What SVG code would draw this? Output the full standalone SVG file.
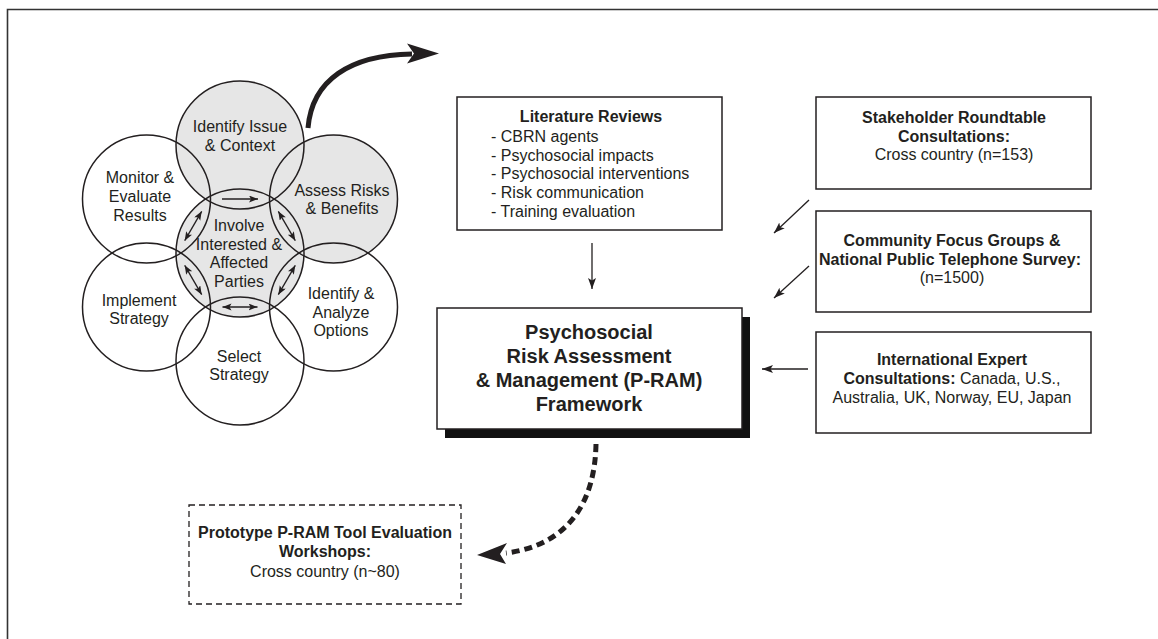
<svg xmlns="http://www.w3.org/2000/svg" width="1158" height="639" viewBox="0 0 1158 639">
<style>
text{font-family:"Liberation Sans",Arial,sans-serif;fill:#231f20;font-size:16px}
.c{text-anchor:middle}
.b{font-weight:bold}
.big{font-size:20px;font-weight:bold}
.ol{fill:none;stroke:#231f20;stroke-width:1.5}
.gf{fill:#e6e6e6;stroke:none}
.box{fill:#fff;stroke:#231f20;stroke-width:1.5}
.ln{fill:none;stroke:#231f20;stroke-width:1.3}
</style>
<defs>
<marker id="ah" markerWidth="12" markerHeight="10" refX="11" refY="4" orient="auto" markerUnits="userSpaceOnUse">
<path d="M0,0 L11,4 L0,8 L2.5,4 z" fill="#231f20"/>
</marker>
<marker id="as" markerWidth="10" markerHeight="8" refX="9" refY="3.5" orient="auto-start-reverse" markerUnits="userSpaceOnUse">
<path d="M0,0 L9,3.5 L0,7 L2,3.5 z" fill="#231f20"/>
</marker>
</defs>
<rect width="1158" height="639" fill="#fff"/>
<path d="M7.5,639 V9.5 H1158" fill="none" stroke="#333" stroke-width="1.6"/>

<g id="circles">
<circle class="gf" cx="240" cy="145" r="64"/>
<circle class="gf" cx="333.5" cy="199" r="64"/>
<circle class="gf" cx="240" cy="253" r="64"/>
<circle class="ol" cx="240" cy="145" r="64"/>
<circle class="ol" cx="333.5" cy="199" r="64"/>
<circle class="ol" cx="333.5" cy="307" r="64"/>
<circle class="ol" cx="240" cy="361" r="64"/>
<circle class="ol" cx="146.5" cy="307" r="64"/>
<circle class="ol" cx="146.5" cy="199" r="64"/>
<circle class="ol" cx="240" cy="253" r="64"/>
</g>
<g id="node-identify-issue"><text class="c" x="240" y="132">Identify Issue</text><text class="c" x="240" y="151">&amp; Context</text></g>
<g id="node-assess"><text class="c" x="342" y="196">Assess Risks</text><text class="c" x="342" y="214">&amp; Benefits</text></g>
<g id="node-analyze"><text class="c" x="341" y="299">Identify &amp;</text><text class="c" x="341" y="318">Analyze</text><text class="c" x="341" y="336">Options</text></g>
<g id="node-select"><text class="c" x="239" y="362">Select</text><text class="c" x="239" y="380">Strategy</text></g>
<g id="node-implement"><text class="c" x="139" y="306">Implement</text><text class="c" x="139" y="324">Strategy</text></g>
<g id="node-monitor"><text class="c" x="140" y="183">Monitor &amp;</text><text class="c" x="140" y="202">Evaluate</text><text class="c" x="140" y="221">Results</text></g>
<g id="node-involve"><text class="c" x="239" y="231">Involve</text><text class="c" x="239" y="250">Interested &amp;</text><text class="c" x="239" y="268">Affected</text><text class="c" x="239" y="287">Parties</text></g>

<g id="node-literature">
<rect class="box" x="457" y="97" width="265" height="133"/>
<text class="c b" x="591" y="122">Literature Reviews</text>
<text x="491" y="142">- CBRN agents</text>
<text x="491" y="161">- Psychosocial impacts</text>
<text x="491" y="179">- Psychosocial interventions</text>
<text x="491" y="198">- Risk communication</text>
<text x="491" y="217">- Training evaluation</text>
</g>

<g id="node-pram">
<rect x="445" y="317" width="305" height="121" fill="#111"/>
<rect class="box" x="437" y="308" width="305" height="121"/>
<text class="c big" x="589" y="339">Psychosocial</text>
<text class="c big" x="589" y="363">Risk Assessment</text>
<text class="c big" x="589" y="387">&amp; Management (P-RAM)</text>
<text class="c big" x="589" y="411">Framework</text>
</g>

<g id="node-stakeholder">
<rect class="box" x="816" y="97" width="275" height="92"/>
<text class="c b" x="954" y="123">Stakeholder Roundtable</text>
<text class="c b" x="954" y="142">Consultations:</text>
<text class="c" x="954" y="160">Cross country (n=153)</text>
</g>

<g id="node-community">
<rect class="box" x="816" y="211" width="275" height="101"/>
<text class="c b" x="952" y="246">Community Focus Groups &amp;</text>
<text class="c b" x="950" y="265">National Public Telephone Survey:</text>
<text class="c" x="952" y="283">(n=1500)</text>
</g>

<g id="node-international">
<rect class="box" x="816" y="332" width="275" height="101"/>
<text class="c b" x="952" y="365">International Expert</text>
<text class="c" x="952" y="384"><tspan class="b">Consultations:</tspan> Canada, U.S.,</text>
<text class="c" x="952" y="403">Australia, UK, Norway, EU, Japan</text>
</g>

<g id="node-prototype">
<rect x="189" y="505" width="272" height="99" fill="#fff" stroke="#231f20" stroke-width="1.3" stroke-dasharray="6 4"/>
<text class="c b" x="325" y="538">Prototype P-RAM Tool Evaluation</text>
<text class="c b" x="325" y="557">Workshops:</text>
<text class="c" x="325" y="577">Cross country (n~80)</text>
</g>

<g id="connectors">
<path class="ln" d="M222,199 H258" marker-end="url(#as)"/>
<path class="ln" d="M278.3,211.3 L295.3,240.7" marker-start="url(#as)" marker-end="url(#as)"/>
<path class="ln" d="M295.3,265.3 L278.3,294.7" marker-start="url(#as)" marker-end="url(#as)"/>
<path class="ln" d="M222.5,307 H257.5" marker-start="url(#as)" marker-end="url(#as)"/>
<path class="ln" d="M184.7,265.3 L201.7,294.7" marker-start="url(#as)" marker-end="url(#as)"/>
<path class="ln" d="M201.7,211.3 L184.7,240.7" marker-start="url(#as)" marker-end="url(#as)"/>

<path d="M308,128 C312,80 350,55 412,54" fill="none" stroke="#231f20" stroke-width="5"/>
<path d="M407,43.5 L439,53.5 L407,63.5 L414,53.5 z" fill="#231f20"/>

<path class="ln" d="M592,243 V289" marker-end="url(#ah)"/>
<path class="ln" d="M809,200 L774,233" marker-end="url(#ah)"/>
<path class="ln" d="M809,266 L774,298" marker-end="url(#ah)"/>
<path class="ln" d="M808,369 H762" marker-end="url(#ah)"/>

<path d="M596,444 C595,500 570,545 506,553" fill="none" stroke="#231f20" stroke-width="5" stroke-dasharray="8 5"/>
<path d="M507,543 L477,555 L506,564 L500,554 z" fill="#231f20"/>
</g>
</svg>
